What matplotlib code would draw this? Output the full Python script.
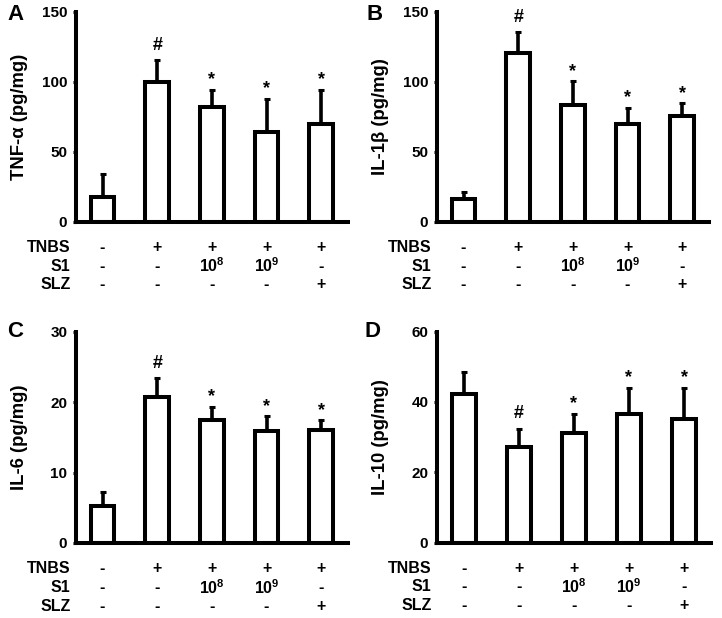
import numpy as np
import matplotlib
matplotlib.use('Agg')
import matplotlib.pyplot as plt

plt.rcParams['font.family'] = ['Liberation Sans', 'DejaVu Sans']
plt.rcParams['font.weight'] = 'bold'
plt.rcParams['mathtext.fontset'] = 'custom'
plt.rcParams['mathtext.rm'] = 'Liberation Sans:bold'
plt.rcParams['mathtext.bf'] = 'Liberation Sans:bold'

# group rows under the bars
row_names = ['TNBS', 'S1', 'SLZ']
tnbs = ['-', '+', '+', '+', '+']
s1 = ['-', '-', '10$^{8}$', '10$^{9}$', '-']
slz = ['-', '-', '-', '-', '+']

# values (mean, upper error)
tnf = [17.5, 100, 81.7, 64.3, 70.0]
tnf_err = [16.5, 15.3, 12.6, 23.6, 24.1]
il1b = [16.3, 120.3, 83.1, 69.8, 75.6]
il1b_err = [4.9, 15.0, 17.1, 11.4, 8.9]
il6 = [5.2, 20.7, 17.5, 15.9, 16.0]
il6_err = [2.0, 2.7, 1.8, 2.1, 1.4]
il10 = [42.4, 27.3, 31.1, 36.7, 35.1]
il10_err = [6.0, 5.1, 5.6, 7.4, 9.0]

signs = ['', '#', '*', '*', '*']

ylabels = ['TNF-\u03b1 (pg/mg)', 'IL-1\u03b2 (pg/mg)', 'IL-6 (pg/mg)', 'IL-10 (pg/mg)']
yticks = [[0, 50, 100, 150], [0, 50, 100, 150], [0, 10, 20, 30], [0, 20, 40, 60]]
letters = ['A', 'B', 'C', 'D']

fig = plt.figure(figsize=(7.22, 6.18), dpi=100)

W, H = 722.0, 618.0
# axes boxes in pixels: left, right, top, bottom
boxes = [(76, 348, 11.7, 221.7), (437, 709, 11.7, 221.7),
         (76, 348, 331.7, 543), (437, 711, 331.7, 542.5)]
letter_pos = [(15, 14), (375, 14), (15, 332), (372, 332)]

data = [(tnf, tnf_err), (il1b, il1b_err), (il6, il6_err), (il10, il10_err)]

for i in range(4):
    l, r, t, b = boxes[i]
    ax = fig.add_axes([l / W, 1 - b / H, (r - l) / W, (b - t) / H])
    vals, errs = data[i]
    x = np.arange(5)
    ax.bar(x, vals, width=0.43, color='white', edgecolor='black', linewidth=2.9, zorder=2)
    ax.errorbar(x, vals, yerr=[np.zeros(5), errs], fmt='none', ecolor='black',
                elinewidth=2.6, capsize=2.3, capthick=2.2, zorder=1)
    ax.set_xlim(-0.485, 4.49)
    ax.set_ylim(0, yticks[i][-1])
    ax.set_yticks(yticks[i])
    ax.set_xticks([])
    for s in ['top', 'right']:
        ax.spines[s].set_visible(False)
    for s in ['left', 'bottom']:
        ax.spines[s].set_linewidth(2.9)
    ax.tick_params(axis='y', direction='out', length=2.3, width=2.2, pad=4.0, labelsize=11)
    for lab in ax.get_yticklabels():
        lab.set_fontweight('bold')
    ax.set_ylabel(ylabels[i], fontsize=13.3, fontweight='bold')
    ax.yaxis.set_label_coords(-0.176, 0.5)

    top = np.array(vals) + np.array(errs)
    for j in range(5):
        if signs[j] == '#':
            ax.annotate('#', xy=(j, top[j]), xytext=(0, 7.5), textcoords='offset points',
                        ha='center', va='baseline', fontsize=13, fontweight='bold')
        elif signs[j] == '*':
            ax.annotate('*', xy=(j, top[j]), xytext=(0, 4.0), textcoords='offset points',
                        ha='center', va='baseline', fontsize=13, fontweight='bold')

    # group table under the axis
    offs = [18.7, 32.0, 45.5]
    for k, row in enumerate([tnbs, s1, slz]):
        ax.annotate(row_names[k], xy=(0, 0), xycoords='axes fraction',
                    xytext=(-4, -offs[k]), textcoords='offset points',
                    ha='right', va='center', fontsize=11.5, fontweight='bold')
        for j in range(5):
            ax.annotate(row[j], xy=(j, 0), xycoords=('data', 'axes fraction'),
                        xytext=(0, -offs[k]), textcoords='offset points',
                        ha='center', va='center', fontsize=11.5, fontweight='bold')

    lx, ly = letter_pos[i]
    fig.text(lx / W, 1 - ly / H, letters[i], fontsize=16, fontweight='bold',
             ha='center', va='center')

fig.savefig('out.png', dpi=100)
